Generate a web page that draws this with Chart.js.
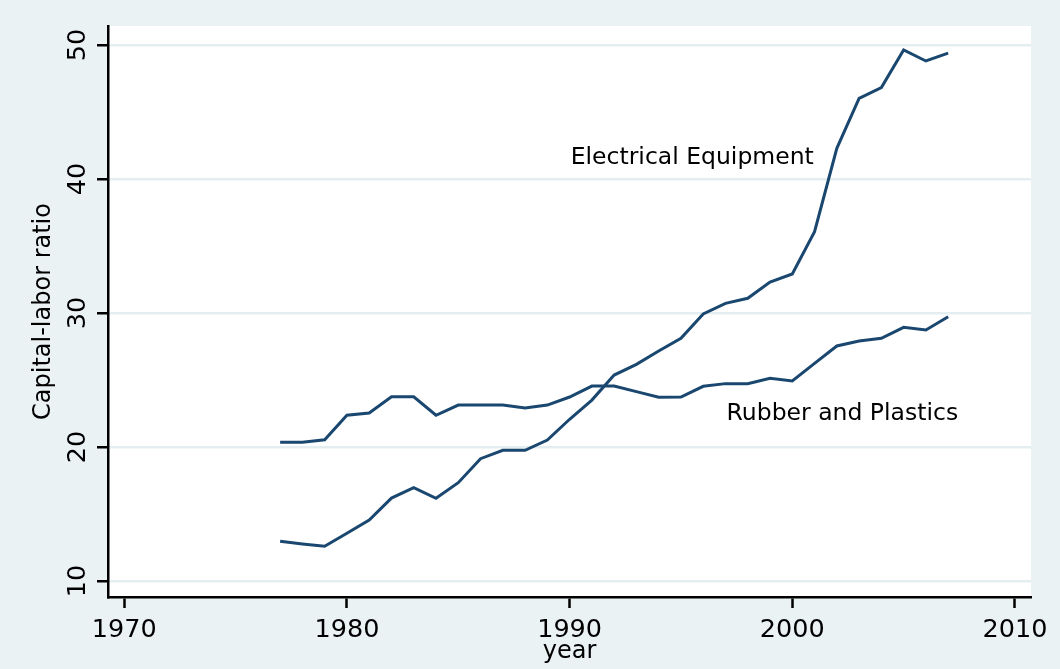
<!DOCTYPE html>
<html>
<head>
<meta charset="utf-8">
<script src="https://cdn.jsdelivr.net/npm/chart.js@4.4.1/dist/chart.umd.min.js"></script>
<style>
  body { margin: 0; background: #eaf2f3; }
  #wrap { width: 1060px; height: 669px; }
</style>
</head>
<body>
<div id="wrap"><canvas id="mycanvas" width="1060" height="669"></canvas></div>
<script>
// values
var years = [1977, 1978, 1979, 1980, 1981, 1982, 1983, 1984, 1985, 1986, 1987,
  1988, 1989, 1990, 1991, 1992, 1993, 1994, 1995, 1996, 1997, 1998, 1999,
  2000, 2001, 2002, 2003, 2004, 2005, 2006, 2007];
var electrical = [12.96, 12.76, 12.59, 13.56, 14.55, 16.19, 16.97, 16.17, 17.34,
  19.13, 19.75, 19.75, 20.52, 22.07, 23.5, 25.37, 26.17, 27.16, 28.11, 29.93,
  30.72, 31.1, 32.31, 32.91, 36.07, 42.29, 46.02, 46.82, 49.63, 48.81, 49.4];
var rubber = [20.35, 20.35, 20.54, 22.37, 22.54, 23.75, 23.75, 22.37, 23.13,
  23.13, 23.13, 22.91, 23.13, 23.73, 24.55, 24.55, 24.13, 23.71, 23.73, 24.53,
  24.73, 24.73, 25.13, 24.93, 26.24, 27.54, 27.91, 28.11, 28.93, 28.73, 29.72];
var xTicks = [1970, 1980, 1990, 2000, 2010];
var yTicks = [10, 20, 30, 40, 50];
var seriesLabels = ['Electrical Equipment', 'Rubber and Plastics'];
var labelSpots = [[1990.05, 41.6], [1997.05, 22.45]];

var navy = '#1a476f';
var bg = '#eaf2f3';
var font = '"DejaVu Sans", sans-serif';

function toPoints(vals) {
  var pts = [];
  for (var i in years) {
    pts.push({ x: years[i], y: vals[i] });
  }
  return pts;
}

var stataLook = {
  id: 'stataLook',
  beforeDraw: function(chart) {
    var c = chart.ctx, a = chart.chartArea;
    c.save();
    c.fillStyle = bg;
    c.fillRect(0, 0, chart.width, chart.height);
    c.fillStyle = '#ffffff';
    c.fillRect(a.left, a.top, a.right - a.left, a.bottom - a.top);
    c.restore();
  },
  afterDraw: function(chart) {
    var c = chart.ctx, a = chart.chartArea;
    var xs = chart.scales.x, ys = chart.scales.y;
    c.save();
    c.fillStyle = '#000000';

    // y tick labels, turned like the reference
    c.font = '25.5px ' + font;
    c.textAlign = 'center';
    c.textBaseline = 'alphabetic';
    yTicks.forEach(function(v) {
      c.save();
      c.translate(85, ys.getPixelForValue(v));
      c.rotate(-Math.PI / 2);
      c.fillText(String(v), 0, 0);
      c.restore();
    });

    // x tick labels
    xTicks.forEach(function(v) {
      c.fillText(String(v), xs.getPixelForValue(v), 637);
    });

    // axis titles
    c.font = '24px ' + font;
    c.textBaseline = 'middle';
    c.save();
    c.translate(44, (a.top + a.bottom) / 2);
    c.rotate(-Math.PI / 2);
    c.fillText('Capital-labor ratio', 0, 0);
    c.restore();
    c.fillText('year', (a.left + a.right) / 2, 652);

    // line labels
    c.font = '23.5px ' + font;
    c.textAlign = 'left';
    for (var i in seriesLabels) {
      c.fillText(seriesLabels[i], xs.getPixelForValue(labelSpots[i][0]),
        ys.getPixelForValue(labelSpots[i][1]));
    }
    c.restore();
  }
};

var ctx = document.getElementById('mycanvas').getContext('2d');
var chart = new Chart(ctx, {
  type: 'line',
  data: {
    datasets: [
      { label: seriesLabels[0], data: toPoints(electrical) },
      { label: seriesLabels[1], data: toPoints(rubber) }
    ]
  },
  options: {
    responsive: false,
    animation: false,
    layout: { padding: { left: 0, top: 26, right: 29, bottom: 0 } },
    elements: {
      line: { borderColor: navy, borderWidth: 3, tension: 0, fill: false },
      point: { radius: 0, hoverRadius: 0 }
    },
    plugins: {
      legend: { display: false },
      tooltip: { enabled: false }
    },
    scales: {
      x: {
        type: 'linear',
        min: 1969.27,
        max: 2010.72,
        afterBuildTicks: function(s) { s.ticks = xTicks.map(function(v) { return { value: v }; }); },
        afterFit: function(s) { s.height = 72; },
        grid: { display: true, drawOnChartArea: false, drawTicks: true,
          tickLength: 11, tickColor: '#000', tickWidth: 2.5 },
        border: { display: true, color: '#000', width: 2.5 },
        ticks: { display: false }
      },
      y: {
        type: 'linear',
        min: 8.806,
        max: 51.42,
        afterBuildTicks: function(s) { s.ticks = yTicks.map(function(v) { return { value: v }; }); },
        afterFit: function(s) { s.width = 108; },
        grid: { display: true, drawOnChartArea: true, drawTicks: true,
          color: '#e4eef0', lineWidth: 2.5,
          tickLength: 11, tickColor: '#000', tickWidth: 2.5 },
        border: { display: true, color: '#000', width: 2.5 },
        ticks: { display: false }
      }
    }
  },
  plugins: [stataLook]
});
</script>
</body>
</html>
